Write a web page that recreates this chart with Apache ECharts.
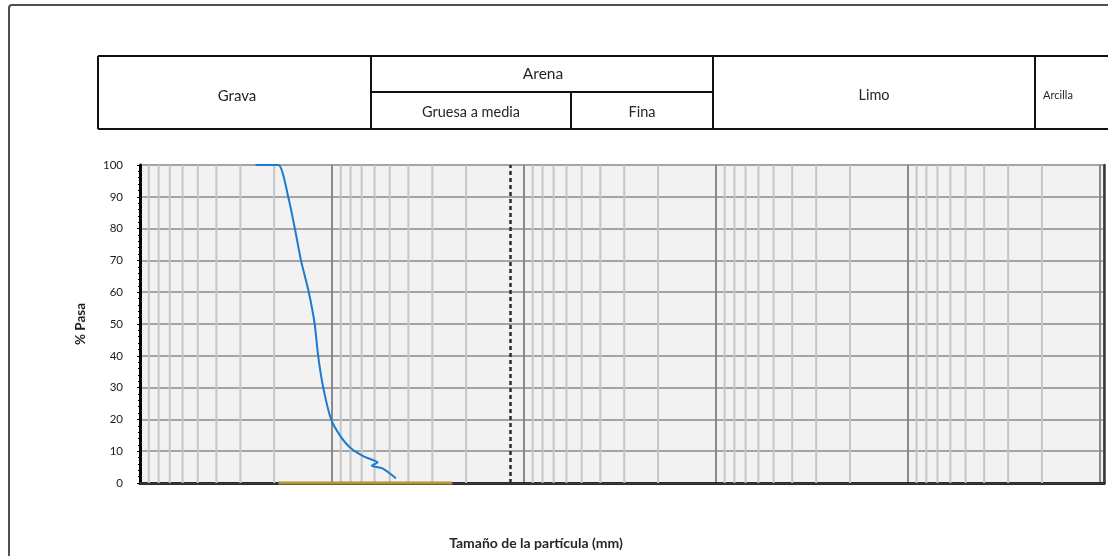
<!DOCTYPE html>
<html>
<head>
<meta charset="utf-8">
<script src="https://cdn.jsdelivr.net/npm/echarts@6/dist/echarts.min.js"></script>
<style>html,body{margin:0;padding:0;background:#fff;}#c{width:1108px;height:556px;}</style>
</head>
<body>
<div id="c"></div>
<script>
// Particle size (mm) vs % passing
const curveSizes = [25, 19, 16.9, 15.6, 14.5, 13.2, 12.3, 11.8, 11.1, 10.1, 9.0, 8.0, 6.8, 5.78, 6.21, 5.45, 4.64];
const curvePass  = [100, 100, 90, 80, 70, 60, 50, 40, 30, 20, 14.6, 11, 8.3, 6.5, 5.4, 4.6, 1.5];
const goldSizes = [19, 2.36];
const goldPass = [0, 0];
const sieveLineSize = 1.18;
const decadeStarts = [0.001, 0.01, 0.1, 1, 10];
const minorMultipliers = [2, 3, 4, 5, 6, 7, 8, 9];
const yTicks = [0, 10, 20, 30, 40, 50, 60, 70, 80, 90, 100];
const headerCells = ['Grava', 'Arena', 'Gruesa a media', 'Fina', 'Limo', 'Arcilla'];
const xTitle = 'Tamaño de la partícula (mm)';
const yTitle = '% Pasa';

const minorGridValues = [];
decadeStarts.forEach(d => minorMultipliers.forEach(m => minorGridValues.push(+(m * d).toPrecision(3))));

const FONT = 'Lato, "Open Sans", sans-serif';
const chart = echarts.init(document.getElementById('c'), null, {renderer: 'canvas'});

function line(x1, y1, x2, y2, w, c) {
  return {type: 'line', silent: true, shape: {x1, y1, x2, y2}, style: {stroke: c || '#111', lineWidth: w || 2}};
}
function txt(t, x, y, size, weight) {
  return {type: 'text', silent: true, style: {text: t, x, y, align: 'center', verticalAlign: 'middle',
    font: (weight || 'normal') + ' ' + size + 'px ' + FONT, fill: '#262626'}};
}

const minorSeries = minorGridValues.map(v => ({
  type: 'line', z: 1, silent: true, showSymbol: false, animation: false,
  lineStyle: {color: '#c6c6c6', width: 2},
  data: [[v, 0], [v, 100]]
}));

const option = {
  animation: false,
  backgroundColor: '#fff',
  grid: {left: 140, right: 4, top: 165, bottom: 73, show: true, backgroundColor: '#f2f2f2', borderWidth: 0},
  xAxis: [{
    type: 'log', logBase: 10, min: 0.00095, max: 100, inverse: true,
    axisLine: {show: true, onZero: false, lineStyle: {color: '#000', width: 3}},
    axisTick: {show: false}, axisLabel: {show: false},
    splitLine: {show: true, lineStyle: {color: '#8a8a8a', width: 2}}
  }, {
    type: 'log', logBase: 10, min: 0.00095, max: 100, inverse: true, position: 'top',
    axisLine: {show: true, lineStyle: {color: '#3a3a3a', width: 2.5}},
    axisTick: {show: false}, axisLabel: {show: false}, splitLine: {show: false}
  }],
  yAxis: [{
    type: 'value', min: 0, max: 100, interval: 10,
    name: yTitle, nameLocation: 'middle', nameGap: 52, nameRotate: 90,
    nameTextStyle: {fontFamily: FONT, fontWeight: 'bold', fontSize: 13.5, color: '#1a1a1a'},
    axisLine: {show: true, lineStyle: {color: '#000', width: 3}},
    axisTick: {show: true, length: 3, lineStyle: {color: '#000', width: 1}},
    minorTick: {show: true, splitNumber: 5, length: 2, lineStyle: {color: '#000'}},
    axisLabel: {fontFamily: FONT, fontSize: 11.5, color: '#1a1a1a', margin: 17,
      formatter: v => yTicks.includes(v) ? String(v) : ''},
    splitLine: {show: true, lineStyle: {color: '#a4a4a4', width: 2}}
  }, {
    type: 'value', min: 0, max: 100, position: 'right',
    axisLine: {show: true, lineStyle: {color: '#3a3a3a', width: 2.5}},
    axisTick: {show: false}, axisLabel: {show: false}, splitLine: {show: false}
  }],
  series: minorSeries.concat([{
    type: 'line', data: [], z: 3, silent: true,
    markLine: {
      silent: true, symbol: ['none', 'none'], label: {show: false}, animation: false,
      lineStyle: {color: '#2b2b2b', width: 2.5, type: [4, 3]},
      data: [{xAxis: sieveLineSize}]
    }
  }, {
    type: 'line', z: 4, clip: false, showSymbol: false, silent: true,
    lineStyle: {color: '#b39337', width: 3},
    data: goldSizes.map((s, i) => [s, goldPass[i]])
  }, {
    type: 'line', z: 5, showSymbol: false, silent: true, smooth: 0.2,
    lineStyle: {color: '#1b7bd0', width: 2},
    data: curveSizes.map((s, i) => [s, curvePass[i]])
  }]),
  graphic: [
    {type: 'rect', silent: true, shape: {x: 9, y: 5, width: 1200, height: 700, r: 3},
      style: {fill: 'none', stroke: '#505050', lineWidth: 2}},
    line(98, 56, 1108, 56, 2), line(98, 129, 1108, 129, 2), line(98, 56, 98, 129, 2),
    line(371, 56, 371, 129, 2), line(713, 56, 713, 129, 2), line(1035, 56, 1035, 129, 2),
    line(371, 92, 713, 92, 2), line(571, 92, 571, 129, 2),
    txt(headerCells[0], 237, 96, 15), txt(headerCells[1], 543, 74, 15.5),
    txt(headerCells[2], 471, 112, 14.5), txt(headerCells[3], 642, 112, 14.5),
    txt(headerCells[4], 874, 95, 14.5), txt(headerCells[5], 1058, 95, 11),
    txt(xTitle, 536, 543, 14, 'bold')
  ]
};
chart.setOption(option);
</script>
</body>
</html>
